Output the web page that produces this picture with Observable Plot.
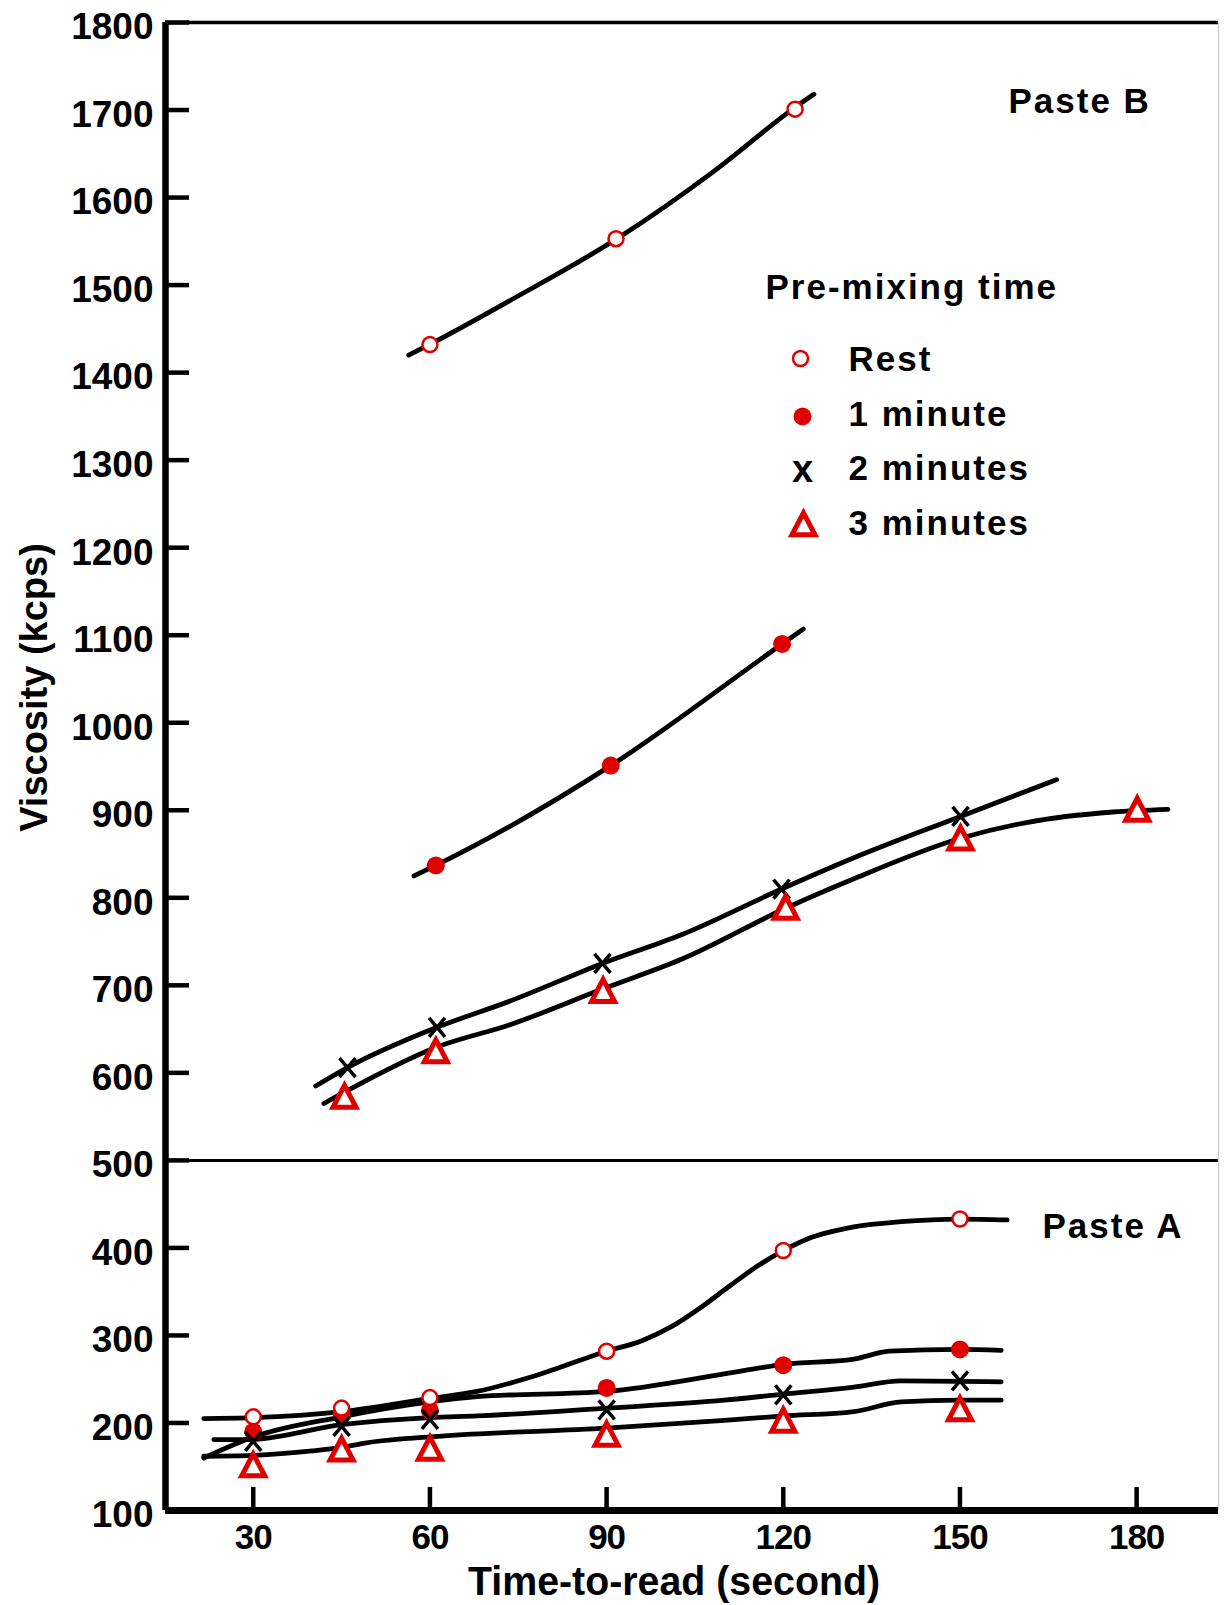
<!DOCTYPE html>
<html>
<head>
<meta charset="utf-8">
<script src="https://cdn.jsdelivr.net/npm/d3@7"></script>
<script src="https://cdn.jsdelivr.net/npm/@observablehq/plot@0.6"></script>
<style>
  html, body { margin: 0; padding: 0; background: #fff; }
  #chart svg { display: block; }
  #chart g[aria-label="x-axis tick label"] text { letter-spacing: -1px; }
</style>
</head>
<body>
<div id="chart"></div>
<script>
// ---------- axis ticks ----------
const xTicks = [30, 60, 90, 120, 150, 180];
const yTicks = [100, 200, 300, 400, 500, 600, 700, 800, 900, 1000, 1100, 1200, 1300, 1400, 1500, 1600, 1700, 1800];
const separatorValue = [500];

// ---------- Paste B : markers ----------
const bRestTime = [60, 91.6, 122];
const bRestVisc = [1432, 1553, 1701];
const b1Time = [61, 90.7, 119.8];
const b1Visc = [837, 951, 1090];
const b2Time = [46, 61.2, 89.3, 119.7, 150.1];
const b2Visc = [606, 652, 725, 810, 893];
const b3Time = [45.5, 61, 89.4, 120.4, 150.1, 180.1];
const b3Visc = [569, 621, 690, 785, 864, 897];

// ---------- Paste B : drawn curves [time, viscosity] ----------
const bRestCurve = [[56.4, 1420], [60.2, 1433], [74.3, 1485], [92, 1554], [108.2, 1630], [122, 1703], [125.2, 1718]];
const b1Curve = [[57.3, 825], [61, 837], [90.7, 951], [119.8, 1090], [123.4, 1107]];
const b2Curve = [[40.6, 585], [46, 606], [61.2, 652], [73.6, 682], [89.3, 725], [102.8, 758], [119.7, 810], [132.1, 846], [150.1, 893], [166.4, 935]];
const b3Curve = [[42, 565], [45.5, 578], [61, 629], [73.6, 655], [89.4, 696], [102.8, 730], [120.4, 788], [132.1, 822], [150.1, 868], [161.3, 886], [176, 898], [185.3, 901]];

// ---------- Paste A : markers ----------
const aTime = [30, 45, 60, 90, 120, 150];
const aRestVisc = [207, 217, 229, 282, 397, 433];
const a1Visc = [190, 211, 214, 240, 266, 284];
const a2Visc = [179, 196, 204, 215, 232, 248];
const a3Visc = [148, 166, 167, 183, 199, 212];

// ---------- Paste A : drawn curves ----------
const aRestCurve = [[21.6, 205], [30, 206], [45, 213], [60, 228], [68, 236], [78.8, 256], [90, 282], [96, 294], [101, 310], [106, 332], [111, 357], [116, 381], [120, 397], [124, 410], [132, 424], [140, 430], [150, 433], [158, 432]];
const a1Curve = [[21.6, 160], [30, 184], [45, 207], [60, 224], [68, 230], [90, 236], [110, 256], [120, 267], [132, 273], [138, 282], [150, 284], [157, 283]];
const a2Curve = [[23.3, 181], [29, 181], [45, 198], [60, 206], [68, 208], [90, 217], [110, 226], [120, 233], [132, 241], [140, 248], [157, 247]];
const a3Curve = [[21.6, 162], [30, 163], [40, 168], [45, 172], [49, 177], [62, 185], [90, 194], [110, 203], [120, 208], [132, 213], [140, 224], [150, 226], [157, 226]];

// ---------- legend & labels ----------
const legendTitle = "Pre-mixing time";
const legendLabels = ["Rest", "1 minute", "2 minutes", "3 minutes"];
const pasteBLabel = "Paste B";
const pasteALabel = "Paste A";
const xTitle = "Time-to-read (second)";
const yTitle = "Viscosity (kcps)";

// ---------- layout / style ----------
const FONT = '"Liberation Sans", Arial, Helvetica, sans-serif';
const RED = "#e00000";
const W = 1224, H = 1605, mL = 165, mR = 6, mT = 22, mB = 95;
const xDomain = [15.1, 193.9];
const yDomain = [100, 1800];
const pxPerX = (W - mL - mR) / (xDomain[1] - xDomain[0]);
const pxPerY = (H - mT - mB) / (yDomain[1] - yDomain[0]);
const yTickLen = 24 / pxPerX;
const xTickLen = 23 / pxPerY;

const pts = (ts, vs) => ts.map((t, i) => ({t, v: vs[i]}));
const curve = arr => arr.map(([t, v]) => ({t, v}));

const triSym = {draw(ctx) { const w = 11.5, h = 22; ctx.moveTo(0, -2 * h / 3); ctx.lineTo(w, h / 3); ctx.lineTo(-w, h / 3); ctx.closePath(); }};
const crossSym = {draw(ctx) { const w = 8, h = 9.5; ctx.moveTo(-w, -h); ctx.lineTo(w, h); ctx.moveTo(w, -h); ctx.lineTo(-w, h); }};

const lineOpts = {x: "t", y: "v", curve: "monotone-x", stroke: "#000", strokeWidth: 4.8, strokeLinecap: "round"};

const openPts = [...pts(bRestTime, bRestVisc), ...pts(aTime, aRestVisc)];
const filledPts = [...pts(b1Time, b1Visc), ...pts(aTime, a1Visc)];
const crossPts = [...pts(b2Time, b2Visc), ...pts(aTime, a2Visc)];
const triPts = [...pts(b3Time, b3Visc), ...pts(aTime, a3Visc)];

const legendRowDy = [348, 403, 457, 512];

const chart = Plot.plot({
  width: W, height: H,
  marginLeft: mL, marginRight: mR, marginTop: mT, marginBottom: mB,
  x: {domain: xDomain, axis: null},
  y: {domain: yDomain, axis: null},
  style: {fontFamily: FONT, fontWeight: "bold", background: "#fff", color: "#000"},
  marks: [
    // frame
    Plot.ruleY(separatorValue, {stroke: "#000", strokeWidth: 3}),
    Plot.ruleY([yDomain[1]], {stroke: "#000", strokeWidth: 3.5}),
    Plot.ruleX([xDomain[1]], {stroke: "#cfcfcf", strokeWidth: 1.5}),
    Plot.ruleX([xDomain[0]], {stroke: "#000", strokeWidth: 6.5}),
    Plot.ruleY([yDomain[0]], {stroke: "#000", strokeWidth: 7}),
    // inward ticks
    Plot.ruleY(yTicks, {y: d => d, x1: xDomain[0], x2: xDomain[0] + yTickLen, stroke: "#000", strokeWidth: 4.5}),
    Plot.ruleX(xTicks, {x: d => d, y1: yDomain[0], y2: yDomain[0] + xTickLen, stroke: "#000", strokeWidth: 4.5}),
    // tick labels
    Plot.axisY(yTicks, {anchor: "left", tickSize: 0, tickPadding: 12, dy: 5, fontSize: 37, label: null, tickFormat: d => String(d)}),
    Plot.axisX(xTicks, {anchor: "bottom", tickSize: 0, tickPadding: 14, fontSize: 35, label: null, tickFormat: d => String(d)}),
    // curves
    Plot.line(curve(bRestCurve), lineOpts),
    Plot.line(curve(b1Curve), lineOpts),
    Plot.line(curve(b2Curve), lineOpts),
    Plot.line(curve(b3Curve), lineOpts),
    Plot.line(curve(aRestCurve), lineOpts),
    Plot.line(curve(a1Curve), lineOpts),
    Plot.line(curve(a2Curve), lineOpts),
    Plot.line(curve(a3Curve), lineOpts),
    // markers
    Plot.dot(filledPts, {x: "t", y: "v", r: 9, fill: RED, stroke: "none"}),
    Plot.dot(crossPts, {x: "t", y: "v", symbol: crossSym, fill: "none", stroke: "#000", strokeWidth: 3.5}),
    Plot.dot(triPts, {x: "t", y: "v", symbol: triSym, fill: "#fff", stroke: RED, strokeWidth: 5, strokeLinejoin: "miter"}),
    Plot.dot(openPts, {x: "t", y: "v", r: 7.5, fill: "#fff", stroke: RED, strokeWidth: 2.5}),
    // titles
    Plot.text([yTitle], {frameAnchor: "left", dx: -131, dy: -79, rotate: -90, fontSize: 38, textAnchor: "middle"}),
    Plot.text([xTitle], {frameAnchor: "bottom", dx: -18, dy: 84, lineAnchor: "bottom", fontSize: 40, textAnchor: "middle"}),
    // annotations
    Plot.text([pasteBLabel], {frameAnchor: "top-left", dx: 843, dy: 90, lineAnchor: "bottom", textAnchor: "start", fontSize: 35}),
    Plot.text([pasteALabel], {frameAnchor: "top-left", dx: 877, dy: 1215, lineAnchor: "bottom", textAnchor: "start", fontSize: 35}),
    Plot.text([legendTitle], {frameAnchor: "top-left", dx: 600, dy: 276, lineAnchor: "bottom", textAnchor: "start", fontSize: 35}),
    ...legendLabels.map((label, i) => Plot.text([label], {frameAnchor: "top-left", dx: 683, dy: legendRowDy[i], lineAnchor: "bottom", textAnchor: "start", fontSize: 35})),
    // legend symbols
    Plot.dot([legendLabels[0]], {frameAnchor: "top-left", dx: 635, dy: 336, r: 7.5, fill: "#fff", stroke: RED, strokeWidth: 2.5}),
    Plot.dot([legendLabels[1]], {frameAnchor: "top-left", dx: 637, dy: 394, r: 9, fill: RED, stroke: "none"}),
    Plot.text(["x"], {frameAnchor: "top-left", dx: 637, dy: 459, lineAnchor: "bottom", textAnchor: "middle", fontSize: 38}),
    Plot.dot([legendLabels[3]], {frameAnchor: "top-left", dx: 638, dy: 505, symbol: triSym, fill: "#fff", stroke: RED, strokeWidth: 5, strokeLinejoin: "miter"})
  ]
});

const svgSel = d3.select(chart);
svgSel.selectAll("text")
  .filter(function () { return this.textContent === xTitle; })
  .attr("textLength", 412)
  .attr("lengthAdjust", "spacingAndGlyphs");
const spaced = new Set([pasteBLabel, pasteALabel, legendTitle, ...legendLabels]);
svgSel.selectAll("text")
  .filter(function () { return spaced.has(this.textContent); })
  .style("letter-spacing", "2px");

document.getElementById("chart").appendChild(chart);
</script>
</body>
</html>
